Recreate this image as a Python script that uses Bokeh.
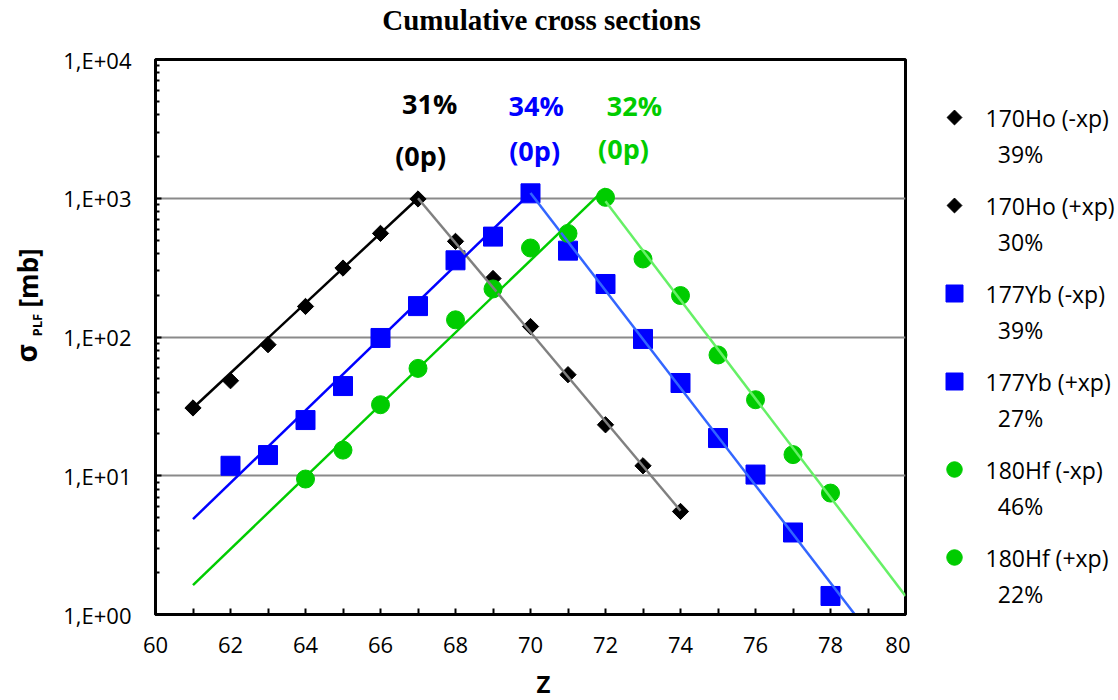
import math
from bokeh.plotting import figure
from bokeh.models import Range1d, FixedTicker, Label
from bokeh.layouts import row, column
from bokeh.embed import file_html
from bokeh.resources import INLINE
from bokeh.core.properties import value

# ---------------- data ----------------
ho_minus_z = [61, 62, 63, 64, 65, 66, 67]
ho_minus_v = [30.8, 48.4, 88, 166, 314, 558, 988]
ho_plus_z = [68, 69, 70, 71, 72, 73, 74]
ho_plus_v = [489, 264, 119, 53.5, 23.3, 11.8, 5.53]

yb_minus_z = [62, 63, 64, 65, 66, 67, 68, 69, 70]
yb_minus_v = [11.8, 14.1, 25.2, 44.3, 98.4, 167, 357, 529, 1085]
yb_plus_z = [71, 72, 73, 74, 75, 76, 77, 78]
yb_plus_v = [419, 241, 96.8, 46.6, 18.7, 10.2, 3.9, 1.36]

hf_minus_z = [64, 65, 66, 67, 68, 69, 70, 71, 72]
hf_minus_v = [9.47, 15.3, 32.5, 59.4, 133, 222, 438, 558, 1015]
hf_plus_z = [73, 74, 75, 76, 77, 78]
hf_plus_v = [365, 199, 74.2, 35.3, 14.2, 7.5]

# exponential fit lines (end points)
fit_ho_minus_z = [61, 67];   fit_ho_minus_v = [30.8, 1000]
fit_ho_plus_z = [67, 74];    fit_ho_plus_v = [1000, 5.6]
fit_yb_minus_z = [61, 70];   fit_yb_minus_v = [4.87, 1090]
fit_yb_plus_z = [70, 78.65]; fit_yb_plus_v = [1090, 1.0]
fit_hf_minus_z = [61, 72];   fit_hf_minus_v = [1.63, 1180]
fit_hf_plus_z = [72, 80];    fit_hf_plus_v = [950, 1.36]

x_ticks = [60, 62, 64, 66, 68, 70, 72, 74, 76, 78, 80]
y_ticks = [1, 10, 100, 1000, 10000]
y_tick_labels = ["1,E+00", "1,E+01", "1,E+02", "1,E+03", "1,E+04"]

legend_names = ["170Ho (-xp)", "170Ho (+xp)", "177Yb (-xp)", "177Yb (+xp)",
                "180Hf (-xp)", "180Hf (+xp)"]
legend_pcts = ["39%", "30%", "39%", "27%", "46%", "22%"]

annot_texts = ["31%", "(0p)", "34%", "(0p)", "32%", "(0p)"]
annot_z = [67.31, 67.07, 70.15, 70.11, 72.77, 72.48]
annot_v = [4820, 2033, 4660, 2208, 4660, 2284]

title_text = "Cumulative cross sections"
x_title = "Z"
y_title_parts = ["σ", "PLF", "[mb]"]

# ---------------- styles ----------------
BLACK = "#000000"
GRAY = "#808080"
BLUE = "#0000FF"
LBLUE = "#3366FF"
GREEN = "#00CC00"
LGREEN = "#66F066"
FONT = "Open Sans"

# page geometry (pixels): title strip, main row, x-title strip
TITLE_H, ROW_H, XT_H = 40, 626, 34
TOP, BOTTOM = 19, 52                  # main-row borders -> frame 59..614
FRAME_TOP, FRAME_BOTTOM = TITLE_H + TOP, TITLE_H + ROW_H - BOTTOM
FRAME_LEFT, FRAME_RIGHT = 155, 905
W, H = 1118, 700


def pixel_fig(width, height, xr, yr, left=0, right=0, top=0, bottom=0):
    f = figure(width=width, height=height, x_range=Range1d(*xr), y_range=Range1d(*yr),
               x_axis_type=None, y_axis_type=None, toolbar_location=None,
               output_backend="svg", min_border_left=left, min_border_right=right,
               min_border_top=top, min_border_bottom=bottom)
    f.outline_line_color = None
    f.grid.visible = False
    return f


# ---------------- main plot ----------------
p = figure(width=860, height=ROW_H, x_range=Range1d(60, 80), y_range=Range1d(1, 1e4),
           y_axis_type="log", toolbar_location=None, output_backend="svg",
           min_border_left=105, min_border_right=5, min_border_top=TOP,
           min_border_bottom=BOTTOM)
p.outline_line_color = BLACK
p.outline_line_width = 3
p.xgrid.visible = False
p.ygrid.grid_line_color = "#8a8a8a"
p.ygrid.grid_line_width = 2
p.ygrid.ticker = FixedTicker(ticks=y_ticks)

minor_y = [m * 10 ** d for d in range(4) for m in range(2, 10)]
p.yaxis.ticker = FixedTicker(ticks=y_ticks, minor_ticks=minor_y)
p.xaxis.ticker = FixedTicker(ticks=x_ticks, minor_ticks=list(range(61, 80, 2)))
p.yaxis.major_label_overrides = {t: l for t, l in zip(y_ticks, y_tick_labels)}

for ax in (p.xaxis, p.yaxis):
    ax.axis_line_width = 3
    ax.axis_line_color = BLACK
    ax.major_tick_line_width = 2
    ax.minor_tick_line_width = 2
    ax.major_tick_line_color = BLACK
    ax.minor_tick_line_color = BLACK
    ax.major_tick_in = 6
    ax.major_tick_out = 0
    ax.major_label_text_font = FONT
    ax.major_label_text_font_size = "22px"
    ax.major_label_text_color = BLACK
p.xaxis.minor_tick_in = 6
p.xaxis.minor_tick_out = 0
p.yaxis.minor_tick_in = 4
p.yaxis.minor_tick_out = 0
p.xaxis.major_label_standoff = 22
p.yaxis.major_label_standoff = 24

# markers
p.scatter(ho_minus_z, ho_minus_v, marker="square", angle=math.pi / 4, size=11.5,
          color=BLACK)
p.scatter(ho_plus_z, ho_plus_v, marker="square", angle=math.pi / 4, size=11.5,
          color=BLACK)
p.scatter(yb_minus_z, yb_minus_v, marker="square", size=19, color=BLUE)
p.scatter(yb_plus_z, yb_plus_v, marker="square", size=19, color=BLUE)
p.scatter(hf_minus_z, hf_minus_v, marker="circle", size=18, color=GREEN)
p.scatter(hf_plus_z, hf_plus_v, marker="circle", size=18, color=GREEN)

# fit lines
p.line(fit_ho_minus_z, fit_ho_minus_v, color=BLACK, line_width=2.5)
p.line(fit_ho_plus_z, fit_ho_plus_v, color=GRAY, line_width=2.5)
p.line(fit_yb_minus_z, fit_yb_minus_v, color=BLUE, line_width=2.5)
p.line(fit_yb_plus_z, fit_yb_plus_v, color=LBLUE, line_width=2.5)
p.line(fit_hf_minus_z, fit_hf_minus_v, color=GREEN, line_width=2.5)
p.line(fit_hf_plus_z, fit_hf_plus_v, color=LGREEN, line_width=2.5)

annot_colors = [BLACK, BLACK, BLUE, BLUE, GREEN, GREEN]
for t, z, v, c in zip(annot_texts, annot_z, annot_v, annot_colors):
    p.add_layout(Label(x=z, y=v, text=t, text_color=c, text_font=FONT,
                       text_font_size="27px", text_font_style="bold",
                       text_align="center", text_baseline="middle"))

# ---------------- y-axis title panel ----------------
ylab = pixel_fig(50, ROW_H, (0, 50), (FRAME_BOTTOM, FRAME_TOP), top=TOP, bottom=BOTTOM)
ylab_x = [25, 36, 27]
ylab_y = [362, 336, 307]
ylab_sizes = ["28px", "13px", "26px"]
for t, xx, yy, s in zip(y_title_parts, ylab_x, ylab_y, ylab_sizes):
    ylab.text(x=[xx], y=[yy], text=[t], angle=math.pi / 2, text_font=value(FONT),
              text_font_style="bold", text_font_size=s, text_align="left",
              text_baseline="middle", text_color=BLACK)

# ---------------- legend panel ----------------
leg = pixel_fig(208, ROW_H, (910, W), (FRAME_BOTTOM, FRAME_TOP), top=TOP, bottom=BOTTOM)
marker_kinds = ["diamond", "diamond", "square", "square", "circle", "circle"]
marker_colors = [BLACK, BLACK, BLUE, BLUE, GREEN, GREEN]
row_y = [117 + 88 * i for i in range(len(legend_names))]
for kind, col, yy in zip(marker_kinds, marker_colors, row_y):
    if kind == "diamond":
        leg.scatter([954], [yy], marker="square", angle=math.pi / 4, size=10.5, color=col)
    elif kind == "square":
        leg.scatter([954], [yy], marker="square", size=17, color=col)
    else:
        leg.scatter([954], [yy], marker="circle", size=15.5, color=col)
leg.text(x=[985] * len(row_y), y=row_y, text=legend_names, text_font=value(FONT),
         text_font_size="23px", text_baseline="middle", text_align="left",
         text_color=BLACK)
leg.text(x=[1020] * len(row_y), y=[yy + 36 for yy in row_y], text=legend_pcts,
         text_font=value(FONT), text_font_size="23px", text_baseline="middle",
         text_align="center", text_color=BLACK)

# ---------------- title strip ----------------
tfig = pixel_fig(W, TITLE_H, (FRAME_LEFT, FRAME_RIGHT), (TITLE_H, 0),
                 left=FRAME_LEFT, right=W - FRAME_RIGHT)
tfig.text(x=[541], y=[19], text=[title_text], text_font=value("Liberation Serif"),
          text_font_style="bold", text_font_size="29px", text_align="center",
          text_baseline="middle", text_color=BLACK)

# ---------------- x-axis title strip ----------------
zfig = pixel_fig(W, XT_H, (FRAME_LEFT, FRAME_RIGHT), (H, H - XT_H),
                 left=FRAME_LEFT, right=W - FRAME_RIGHT)
zfig.text(x=[543], y=[H - 1], text=[x_title], text_font=value(FONT),
          text_font_style="bold", text_font_size="24px", text_align="center",
          text_baseline="bottom", text_color=BLACK)

layout = column(tfig, row(ylab, p, leg), zfig)
open("out.html", "w").write(file_html(layout, INLINE))
